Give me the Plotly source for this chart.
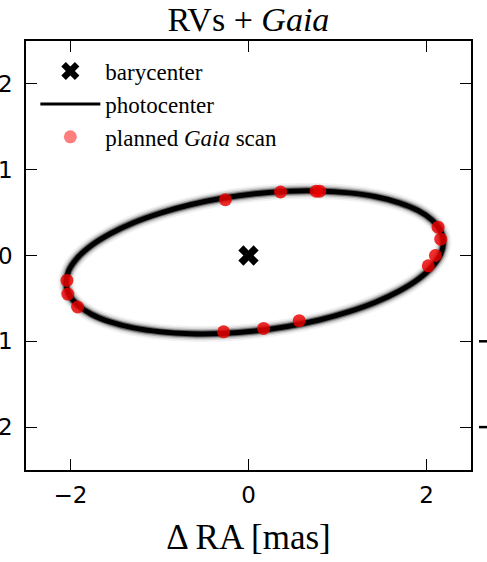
import plotly.graph_objects as go

# Photocenter orbit read around the ellipse every ~10 degrees (mas), closed loop
orbit_ra = [2.19, 2.158, 2.062, 1.906, 1.694, 1.433, 1.13, 0.795, 0.438, 0.07,
            -0.298, -0.655, -0.99, -1.293, -1.554, -1.766, -1.922, -2.018, -2.05,
            -2.018, -1.922, -1.766, -1.554, -1.293, -0.99, -0.655, -0.298, 0.07,
            0.438, 0.795, 1.13, 1.433, 1.694, 1.906, 2.062, 2.158, 2.19]
orbit_dec = [0.155, 0.29, 0.414, 0.524, 0.614, 0.684, 0.73, 0.752, 0.749, 0.72,
             0.667, 0.591, 0.495, 0.382, 0.254, 0.117, -0.027, -0.173, -0.315,
             -0.45, -0.574, -0.684, -0.774, -0.844, -0.89, -0.912, -0.909, -0.88,
             -0.827, -0.752, -0.655, -0.542, -0.414, -0.277, -0.133, 0.013, 0.155]

# Planned Gaia scan epochs on the orbit (mas)
scan_ra = [-0.26, 0.36, 0.76, 0.80, 2.13, 2.16, 2.10, 2.02, 0.57, 0.17, -0.28,
           -2.04, -2.03, -1.92]
scan_dec = [0.65, 0.74, 0.75, 0.75, 0.33, 0.19, 0.00, -0.12, -0.76, -0.85, -0.89,
            -0.29, -0.45, -0.60]

bary_ra = [0.0]
bary_dec = [0.0]

x_ticks = [-2, 0, 2]
y_ticks = [-2, -1, 0, 1, 2]

SERIF = "Liberation Serif, Times New Roman, serif"
SANS = "DejaVu Sans, sans-serif"

fig = go.Figure()

# Soft halo of the posterior orbit draws, then the dark core
for w, a in [(16, 0.05), (12.5, 0.1), (9.5, 0.2), (7, 0.45), (5, 1.0)]:
    fig.add_trace(go.Scatter(
        x=orbit_ra, y=orbit_dec, mode="lines",
        line=dict(color=f"rgba(0,0,0,{a})", width=w, shape="spline", smoothing=1.0),
        showlegend=False, hoverinfo="skip"))

fig.add_trace(go.Scatter(
    x=scan_ra, y=scan_dec, mode="markers",
    marker=dict(color="rgba(238,0,0,0.82)", size=13, line=dict(width=0)),
    showlegend=False))

fig.add_trace(go.Scatter(
    x=bary_ra, y=bary_dec, mode="markers",
    marker=dict(symbol="x", color="black", size=18, line=dict(width=0)),
    showlegend=False))

# Legend entries
fig.add_trace(go.Scatter(
    x=[None], y=[None], mode="markers", name="barycenter", legendgroup="a",
    marker=dict(symbol="x", color="black", size=16, line=dict(width=0))))
fig.add_trace(go.Scatter(
    x=[None], y=[None], mode="lines", name="photocenter", legendgroup="b",
    line=dict(color="black", width=3)))
fig.add_trace(go.Scatter(
    x=[None], y=[None], mode="markers", name="planned <i>Gaia</i> scan", legendgroup="c",
    marker=dict(color="rgba(255,0,0,0.5)", size=13, line=dict(width=0))))

axis_common = dict(
    showgrid=False, zeroline=False, showline=True, linecolor="black", linewidth=1.5,
    mirror="ticks", ticks="inside", ticklen=11, tickwidth=1.3, tickcolor="black",
    tickfont=dict(family=SANS, size=23, color="black"), automargin=False,
)

fig.update_xaxes(range=[-2.5, 2.5], tickvals=x_ticks, ticklabelstandoff=4, **axis_common,
                 title=dict(text="Δ RA [mas]", font=dict(family=SERIF, size=35, color="black"),
                            standoff=17))
fig.update_yaxes(range=[-2.5, 2.5], tickvals=y_ticks, ticklabelstandoff=7, **axis_common)

# Minus signs of the neighbouring panel's tick labels at the page edge
for v in [-1, -2]:
    fig.add_shape(type="line", xref="paper", yref="y",
                  x0=1.018, x1=1.04, y0=v, y1=v,
                  line=dict(color="black", width=2.5))

fig.update_layout(
    width=487, height=562,
    margin=dict(l=26, r=16, t=41, b=92),
    paper_bgcolor="white", plot_bgcolor="white",
    title=dict(text="RVs + <i>Gaia</i>", x=0.51, xanchor="center",
               y=1 - 19 / 562, yref="container", yanchor="middle",
               font=dict(family=SERIF, size=34, color="black")),
    legend=dict(x=0.021, y=0.98, xanchor="left", yanchor="top",
                bgcolor="rgba(0,0,0,0)", borderwidth=0, itemwidth=60,
                tracegroupgap=0,
                font=dict(family=SERIF, size=23, color="black")),
    showlegend=True,
)

fig.write_html("out.html")
